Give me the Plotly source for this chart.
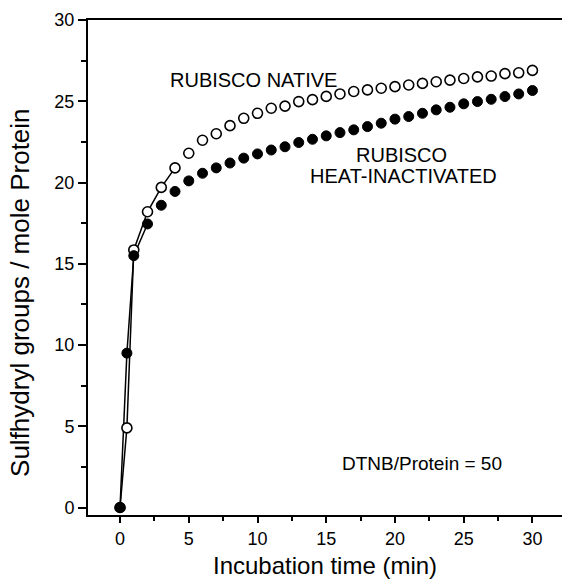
import plotly.graph_objects as go

times = [0, 0.5] + list(range(1, 31))
native = [0, 4.9, 15.85, 18.2, 19.7, 20.9, 21.8, 22.6, 23.0, 23.5, 23.95, 24.26,
          24.57, 24.7, 24.98, 25.1, 25.3, 25.45, 25.6, 25.7, 25.8, 25.9, 26.0,
          26.1, 26.2, 26.3, 26.4, 26.5, 26.55, 26.7, 26.75, 26.9]
inactivated = [0, 9.5, 15.5, 17.45, 18.6, 19.45, 20.1, 20.57, 20.9, 21.2, 21.5,
               21.76, 22.0, 22.2, 22.46, 22.66, 22.87, 23.07, 23.24, 23.44, 23.65,
               23.9, 24.06, 24.26, 24.47, 24.63, 24.84, 24.98, 25.12, 25.29, 25.45,
               25.66]
native_line_n = 6
inact_line_n = 4

xticks = [0, 5, 10, 15, 20, 25, 30]
yticks = [0, 5, 10, 15, 20, 25, 30]

FONT = "Liberation Sans, Arial, sans-serif"

fig = go.Figure()
fig.add_trace(go.Scatter(x=times[:native_line_n], y=native[:native_line_n], mode="lines",
                         line=dict(color="black", width=1.5), showlegend=False))
fig.add_trace(go.Scatter(x=times[:inact_line_n], y=inactivated[:inact_line_n], mode="lines",
                         line=dict(color="black", width=1.5), showlegend=False))
fig.add_trace(go.Scatter(x=times, y=native, mode="markers",
                         marker=dict(symbol="circle", size=10, color="white",
                                     line=dict(color="black", width=1.6)),
                         showlegend=False))
fig.add_trace(go.Scatter(x=times, y=inactivated, mode="markers",
                         marker=dict(symbol="circle", size=10, color="black",
                                     line=dict(color="black", width=1)),
                         showlegend=False))

fig.add_annotation(x=9.7, y=26.3, text="RUBISCO NATIVE", showarrow=False,
                   font=dict(family=FONT, size=20, color="black"))
fig.add_annotation(x=20.5, y=21.7, text="RUBISCO", showarrow=False,
                   font=dict(family=FONT, size=20, color="black"))
fig.add_annotation(x=20.6, y=20.4, text="HEAT-INACTIVATED", showarrow=False,
                   font=dict(family=FONT, size=20, color="black"))
fig.add_annotation(x=22.0, y=2.7, text="DTNB/Protein = 50", showarrow=False,
                   font=dict(family=FONT, size=19, color="black"))

# axis titles as paper annotations
fig.add_annotation(xref="paper", yref="paper", x=0.5, y=-0.102,
                   xanchor="center", yanchor="middle", showarrow=False,
                   text="Incubation time (min)",
                   font=dict(family=FONT, size=24, color="black"))
fig.add_annotation(xref="paper", yref="paper", x=-0.142, y=0.45,
                   xanchor="center", yanchor="middle", showarrow=False, textangle=-90,
                   text="Sulfhydryl groups / mole Protein",
                   font=dict(family=FONT, size=26, color="black"))

fig.update_layout(
    width=564, height=583,
    margin=dict(l=88, r=2, t=20, b=68),
    paper_bgcolor="white", plot_bgcolor="white",
    font=dict(family=FONT, size=18, color="black"),
    xaxis=dict(range=[-2.33, 32.15], tickvals=xticks, ticktext=[str(v) for v in xticks],
               ticks="outside", ticklen=6, tickwidth=1.5, tickcolor="black",
               minor=dict(dtick=2.5, tick0=0, ticks="outside", ticklen=4, tickwidth=1.5, tickcolor="black"),
               showgrid=False, zeroline=False, showline=True, linecolor="black", linewidth=2,
               mirror=True, tickfont=dict(size=18)),
    yaxis=dict(range=[-0.46, 30.0], tickvals=yticks, ticktext=[str(v) for v in yticks],
               ticks="outside", ticklen=8, tickwidth=1.5, tickcolor="black",
               minor=dict(dtick=2.5, tick0=0, ticks="outside", ticklen=5, tickwidth=1.5, tickcolor="black"),
               showgrid=False, zeroline=False, showline=True, linecolor="black", linewidth=2,
               tickfont=dict(size=18)),
)

fig.write_html("out.html")
